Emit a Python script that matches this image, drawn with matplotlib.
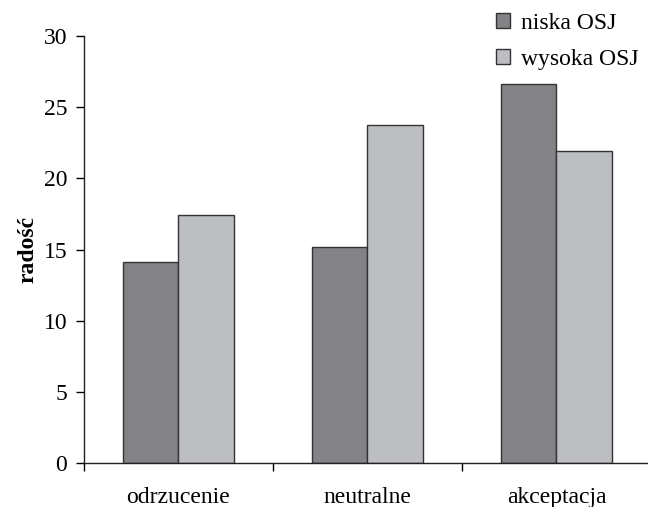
import numpy as np
import matplotlib.pyplot as plt
from matplotlib.ticker import FixedLocator, NullFormatter, FixedFormatter

plt.rcParams['font.family'] = ['Liberation Serif', 'DejaVu Serif']

categories = ["odrzucenie", "neutralne", "akceptacja"]
niska = [14.1, 15.2, 26.6]
wysoka = [17.4, 23.75, 21.95]
series_names = ["niska OSJ", "wysoka OSJ"]

fig = plt.figure(figsize=(6.48, 5.07), dpi=100)
# axes run a little past the right edge, the x axis line is cut off there
ax = fig.add_axes([84 / 648, 44 / 507, 567 / 648, 427 / 507])

x = np.arange(len(categories)) + 0.5
w = 0.296
b1 = ax.bar(x - w / 2, niska, w, color="#838387", edgecolor="#333333", linewidth=1.0)
b2 = ax.bar(x + w / 2, wysoka, w, color="#bdbec2", edgecolor="#333333", linewidth=1.0)

ax.set_xlim(0, 3)
ax.set_ylim(0, 30)
ax.set_yticks(np.arange(0, 31, 5))

fs = 17

# major ticks mark category borders, minor ticks carry the labels
ax.xaxis.set_major_locator(FixedLocator([0, 1, 2, 3]))
ax.xaxis.set_major_formatter(NullFormatter())
ax.xaxis.set_minor_locator(FixedLocator(x))
ax.xaxis.set_minor_formatter(FixedFormatter(categories))
ax.tick_params(axis="x", which="major", length=6, width=1, direction="out")
ax.tick_params(axis="x", which="minor", length=0, pad=17, labelsize=fs)
ax.tick_params(axis="y", length=6, width=1, direction="out", labelsize=fs, pad=6)

for s in ["top", "right"]:
    ax.spines[s].set_visible(False)
for s in ["left", "bottom"]:
    ax.spines[s].set_linewidth(1.0)
    ax.spines[s].set_color("#222222")

ax.set_ylabel("radość", fontsize=fs, fontweight="bold", labelpad=4)

fig.legend([b1, b2], series_names, loc="upper left", bbox_to_anchor=(483 / 648, 1.0),
           frameon=False, fontsize=fs, handlelength=0.6, handleheight=0.6,
           handletextpad=0.45, labelspacing=0.62, borderaxespad=0.15)

fig.savefig("out.png", dpi=100)
